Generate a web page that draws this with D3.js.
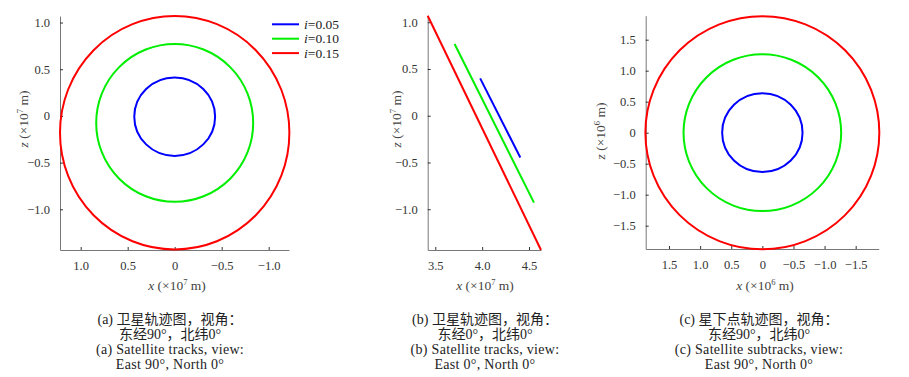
<!DOCTYPE html>
<html>
<head>
<meta charset="utf-8">
<script src="https://cdn.jsdelivr.net/npm/d3@7"></script>
<style>
  body { margin: 0; background: #fff; }
  svg { display: block; font-family: "Liberation Serif", "Noto Sans CJK SC", serif; }
  .axis path { stroke: #777; }
  .axis line { stroke: #333; }
  .axis text { fill: #333; font-size: 12.5px; font-family: "Liberation Serif", serif; }
</style>
</head>
<body>
<div id="chart"></div>
<script>
// series
const seriesNames = ["0.05", "0.10", "0.15"];
const seriesColors = ["#0000ff", "#00ee00", "#ff0000"];

// (a) orbit ellipses, x-z plane (x10^7 m)
const orbitA_cx = [0, 0, 0];
const orbitA_cz = [-0.008, -0.075, -0.18];
const orbitA_rx = [0.43, 0.835, 1.22];
const orbitA_rz = [0.42, 0.845, 1.25];

// (b) track endpoints seen edge-on (x10^7 m)
const trackB_start = [[3.979, 0.40], [3.706, 0.768], [3.419, 1.07]];
const trackB_end = [[4.407, -0.447], [4.553, -0.929], [4.628, -1.436]];

// (c) sub-satellite tracks (x10^6 m)
const orbitC_cx = [0, 0, 0];
const orbitC_cz = [0, 0, 0];
const orbitC_rx = [0.646, 1.267, 1.88];
const orbitC_rz = [0.636, 1.265, 1.88];

// ticks
const ticksA_x = [1.0, 0.5, 0, -0.5, -1.0];
const ticksA_z = [1.0, 0.5, 0, -0.5, -1.0];
const ticksB_x = [3.5, 4.0, 4.5];
const ticksB_z = [1.0, 0.5, 0, -0.5, -1.0];
const ticksC_x = [1.5, 1.0, 0.5, 0, -0.5, -1.0, -1.5];
const ticksC_z = [1.5, 1.0, 0.5, 0, -0.5, -1.0, -1.5];

// captions
const captionsA = ["(a) 卫星轨迹图，视角：", "东经90°，北纬0°", "(a) Satellite tracks, view:", "East 90°, North 0°"];
const captionsB = ["(b) 卫星轨迹图，视角：", "东经0°，北纬0°", "(b) Satellite tracks, view:", "East 0°, North 0°"];
const captionsC = ["(c) 星下点轨迹图，视角：", "东经90°，北纬0°", "(c) Satellite subtracks, view:", "East 90°, North 0°"];

const width = 909, height = 377;
const svg = d3.select("#chart").append("svg")
    .attr("width", width)
    .attr("height", height);

const fmt = d => d === 0 ? "0" : d3.format(".1f")(d);

// Draw the axes frame of one panel and return its scales
function makePanel(p) {
    const x = d3.scaleLinear().domain(p.xDomain).range([p.left, p.right]);
    const y = d3.scaleLinear().domain(p.yDomain).range([p.bottom, p.top]);

    svg.append("g")
        .attr("class", "axis")
        .attr("transform", `translate(0,${p.bottom})`)
        .call(d3.axisBottom(x).tickValues(p.xTicks).tickFormat(fmt)
            .tickSizeInner(-3).tickSizeOuter(0).tickPadding(11))
        .attr("font-family", null)
        .attr("font-size", null);

    svg.append("g")
        .attr("class", "axis")
        .attr("transform", `translate(${p.left},0)`)
        .call(d3.axisLeft(y).tickValues(p.yTicks).tickFormat(fmt)
            .tickSizeInner(-3).tickSizeOuter(0).tickPadding(10))
        .attr("font-family", null)
        .attr("font-size", null);

    // x label
    const xl = svg.append("text")
        .attr("x", p.xLabelX)
        .attr("y", 290)
        .attr("text-anchor", "middle")
        .attr("fill", "#444")
        .attr("font-size", 13.5);
    xl.append("tspan").attr("font-style", "italic").text("x");
    xl.append("tspan").text(" (×10");
    xl.append("tspan").attr("font-size", 8.5).attr("dy", -5).text(p.exp);
    xl.append("tspan").attr("dy", 5).text(" m)");

    // y label
    const yl = svg.append("text")
        .attr("transform", `translate(${p.yLabelX},${p.yLabelY}) rotate(-90)`)
        .attr("text-anchor", "middle")
        .attr("fill", "#444")
        .attr("font-size", 13.5);
    yl.append("tspan").attr("font-style", "italic").text("z");
    yl.append("tspan").text(" (×10");
    yl.append("tspan").attr("font-size", 8.5).attr("dy", -5).text(p.exp);
    yl.append("tspan").attr("dy", 5).text(" m)");

    // caption: two Chinese lines, then two English lines
    svg.append("g").selectAll("text")
        .data(p.captions)
        .enter()
        .append("text")
        .attr("x", p.captionX)
        .attr("y", (d, i) => 323.5 + i * 15.2)
        .attr("text-anchor", "middle")
        .attr("fill", "#222")
        .attr("font-size", 14)
        .attr("letter-spacing", (d, i) => i >= 2 ? 0.3 : 0)
        .text(d => d);

    return { x, y };
}

// Draw orbit ellipses through the panel scales
function drawEllipses(s, cx, cz, rx, rz) {
    svg.append("g").selectAll("ellipse")
        .data(seriesNames)
        .enter()
        .append("ellipse")
        .attr("cx", (d, i) => s.x(cx[i]))
        .attr("cy", (d, i) => s.y(cz[i]))
        .attr("rx", (d, i) => Math.abs(s.x(cx[i] + rx[i]) - s.x(cx[i])))
        .attr("ry", (d, i) => Math.abs(s.y(cz[i] + rz[i]) - s.y(cz[i])))
        .attr("fill", "none")
        .attr("stroke", (d, i) => seriesColors[i])
        .attr("stroke-width", 2);
}

// Panel (a)
const sA = makePanel({
    left: 60, right: 289, top: 16, bottom: 250,
    xDomain: [1.22, -1.216], yDomain: [-1.436, 1.07],
    xTicks: ticksA_x, yTicks: ticksA_z, exp: "7",
    xLabelX: 177, yLabelX: 28, yLabelY: 119,
    captionX: 170, captions: captionsA
});
drawEllipses(sA, orbitA_cx, orbitA_cz, orbitA_rx, orbitA_rz);

// Panel (b)
const sB = makePanel({
    left: 427.7, right: 541, top: 15.7, bottom: 250,
    xDomain: [3.419, 4.628], yDomain: [-1.436, 1.07],
    xTicks: ticksB_x, yTicks: ticksB_z, exp: "7",
    xLabelX: 485, yLabelX: 401, yLabelY: 119,
    captionX: 485, captions: captionsB
});
const line = d3.line().x(d => sB.x(d[0])).y(d => sB.y(d[1]));
svg.append("g").selectAll("path")
    .data(seriesNames)
    .enter()
    .append("path")
    .attr("d", (d, i) => line([trackB_start[i], trackB_end[i]]))
    .attr("fill", "none")
    .attr("stroke", (d, i) => seriesColors[i])
    .attr("stroke-width", 2);

// Panel (c)
const sC = makePanel({
    left: 645.7, right: 878.7, top: 15.7, bottom: 249,
    xDomain: [1.875, -1.87], yDomain: [-1.876, 1.887],
    xTicks: ticksC_x, yTicks: ticksC_z, exp: "6",
    xLabelX: 765, yLabelX: 605, yLabelY: 131,
    captionX: 759, captions: captionsC
});
drawEllipses(sC, orbitC_cx, orbitC_cz, orbitC_rx, orbitC_rz);

// Legend
const legend = svg.append("g")
    .selectAll("g")
    .data(seriesNames)
    .enter()
    .append("g")
    .attr("transform", (d, i) => `translate(272,${24.3 + i * 14.4})`);

legend.append("line")
    .attr("x1", 0).attr("x2", 27)
    .attr("stroke", (d, i) => seriesColors[i])
    .attr("stroke-width", 2);

const lt = legend.append("text")
    .attr("x", 32)
    .attr("dy", "0.35em")
    .attr("fill", "#222")
    .attr("font-size", 13.5);
lt.append("tspan").attr("font-style", "italic").text("i");
lt.append("tspan").text(d => "=" + d);
</script>
</body>
</html>
